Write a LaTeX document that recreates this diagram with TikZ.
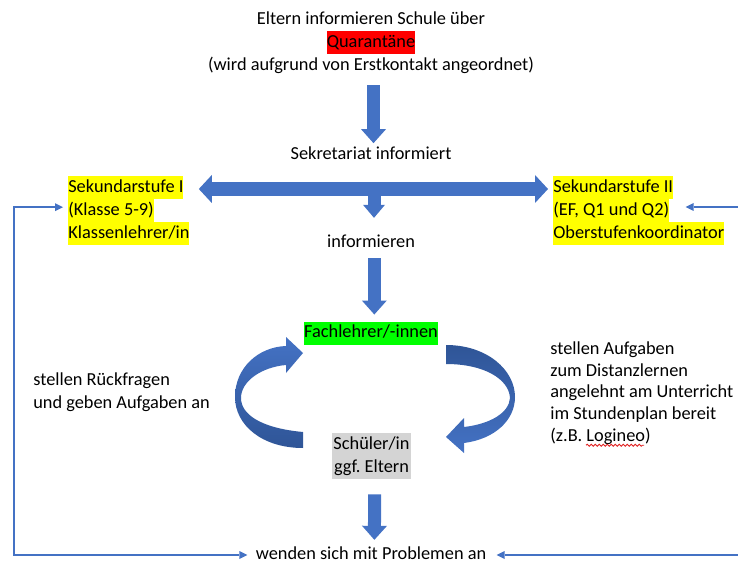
\documentclass[tikz,border=0pt]{standalone}
\usepackage{fontspec}
\setmainfont{Carlito}
\usepackage{xcolor}
\usetikzlibrary{arrows.meta,calc,decorations.pathmorphing}
\definecolor{arrowblue}{HTML}{4472C4}
\definecolor{arrowdark}{HTML}{2F5597}
\definecolor{hlyellow}{HTML}{FFFF00}
\definecolor{hlred}{HTML}{FF0000}
\definecolor{hlgreen}{HTML}{00FF00}
\definecolor{boxgray}{HTML}{D4D4D4}
\definecolor{spellred}{HTML}{E02020}
\newcommand{\hlbox}[2]{{\setlength{\fboxsep}{0pt}\colorbox{#1}{\strut#2}}}
\frenchspacing

\begin{document}
\begin{tikzpicture}[x=0.6pt, y=-0.6pt,
  txt/.style={inner sep=0pt, font=\fontsize{11}{13.8}\selectfont},
  fat/.style={draw=arrowblue, line width=7.8pt, -{Triangle[length=8.4pt, width=15pt, line width=0pt]}},
  link/.style={draw=arrowblue, line width=1.2pt},
  linktip/.tip={Triangle[length=4.8pt, width=4.8pt, line width=0pt]}]
  \useasboundingbox (0,0) rectangle (738,567);

  \node[txt, align=center] (eltern) at (371,43) {\strut Eltern informieren Schule über\\\hlbox{hlred}{Quarantäne}\\\strut(wird aufgrund von Erstkontakt angeordnet)};
  \node[txt] (sekr) at (371,155) {\strut Sekretariat informiert};
  \node[txt, anchor=west] (sekIa) at (68,187.5) {\hlbox{hlyellow}{Sekundarstufe I}};
  \node[txt, anchor=west] (sekIb) at (68,210.5) {\hlbox{hlyellow}{(Klasse 5-9)}};
  \node[txt, anchor=west] (sekIc) at (68,233.5) {\hlbox{hlyellow}{Klassenlehrer/in}};
  \node[txt, anchor=west] (sekIIa) at (553,187.5) {\hlbox{hlyellow}{Sekundarstufe II}};
  \node[txt, anchor=west] (sekIIb) at (553,210.5) {\hlbox{hlyellow}{(EF, Q1 und Q2)}};
  \node[txt, anchor=west] (sekIIc) at (553,233.5) {\hlbox{hlyellow}{Oberstufenkoordinator}};
  \node[txt] (inform) at (371,243) {\strut informieren};
  \node[txt] (fach) at (371,333) {\hlbox{hlgreen}{Fachlehrer/-innen}};
  \node[txt, fill=boxgray, inner xsep=1pt, align=center] (schueler) at (371.5,456) {\strut Schüler/in\\\strut ggf. Eltern};
  \node[txt, anchor=west, align=left] (rueck) at (33,392.5) {\strut stellen Rückfragen\\\strut und geben Aufgaben an};
  \node[txt, anchor=west, align=left, font=\fontsize{11}{13.05}\selectfont] (aufg) at (550,393.5) {\strut stellen Aufgaben\\\strut zum Distanzlernen\\\strut angelehnt am Unterricht\\\strut im Stundenplan bereit\\\strut(z.B. Logineo)};
  \node[txt] (probl) at (371,555) {\strut wenden sich mit Problemen an};

  \coordinate (hub) at (374,189);
  \coordinate (loopL) at (14,555);
  \coordinate (edgeT) at (738,207);
  \coordinate (edgeB) at (738,555);

  \draw[fat, shorten <=4.5pt] ([xshift=1.5pt]eltern.south) -- ([xshift=1.5pt]sekr.north);
  \draw[fat, line width=8.4pt, -{Triangle[length=7.8pt, width=16.8pt, line width=0pt]}, shorten >=9pt] (hub) -- (sekIa.east |- hub);
  \draw[fat, line width=8.4pt, -{Triangle[length=7.8pt, width=16.8pt, line width=0pt]}, shorten >=3pt] (hub) -- (sekIIa.west |- hub);
  \draw[fat, -{Triangle[length=7.8pt, width=13.2pt, line width=0pt]}, shorten >=8pt] (hub) -- (inform.north -| hub);
  \draw[fat, shorten <=2pt, shorten >=4pt] ([xshift=2pt]inform.south) -- ([xshift=2pt]fach.north);
  \draw[fat, shorten <=9pt, shorten >=2pt] ([xshift=2pt]schueler.south) -- ([xshift=2pt]probl.north);

  \shade[top color=arrowblue, bottom color=arrowdark] (303,448) .. controls (262,448) and (235,425) .. (235,397)
    .. controls (235,368) and (258,347) .. (286,346) -- (286,337) -- (303,353) -- (286,373) -- (286,365)
    .. controls (262,367) and (241,381) .. (241,398) .. controls (241,414) and (260,428) .. (303,432) -- cycle;
  \shade[top color=arrowdark, bottom color=arrowblue] (446,345) .. controls (487,345) and (515,370) .. (515,397)
    .. controls (515,420) and (495,439) .. (464,443) -- (464,453) -- (446,437) -- (464,418) -- (464,427)
    .. controls (490,424) and (509,413) .. (510,398) .. controls (509,379) and (484,364) .. (446,364) -- cycle;

  \draw[spellred, line width=0.5pt, decorate, decoration={snake, amplitude=0.6pt, segment length=2.4pt}]
    ([shift={(21.6pt,1.8pt)}]aufg.south west) -- ++(34.8pt,0pt);

  \draw[link, linktip-linktip, shorten <=3pt, shorten >=4.8pt] ([yshift=2pt]sekIb.west) -| (loopL) -- (probl.west);
  \draw[link, -linktip, shorten >=9.6pt] (edgeT) -- (sekIIb.east |- edgeT);
  \draw[link, -linktip, shorten >=6pt] (edgeB) -- (probl.east);
\end{tikzpicture}
\end{document}
